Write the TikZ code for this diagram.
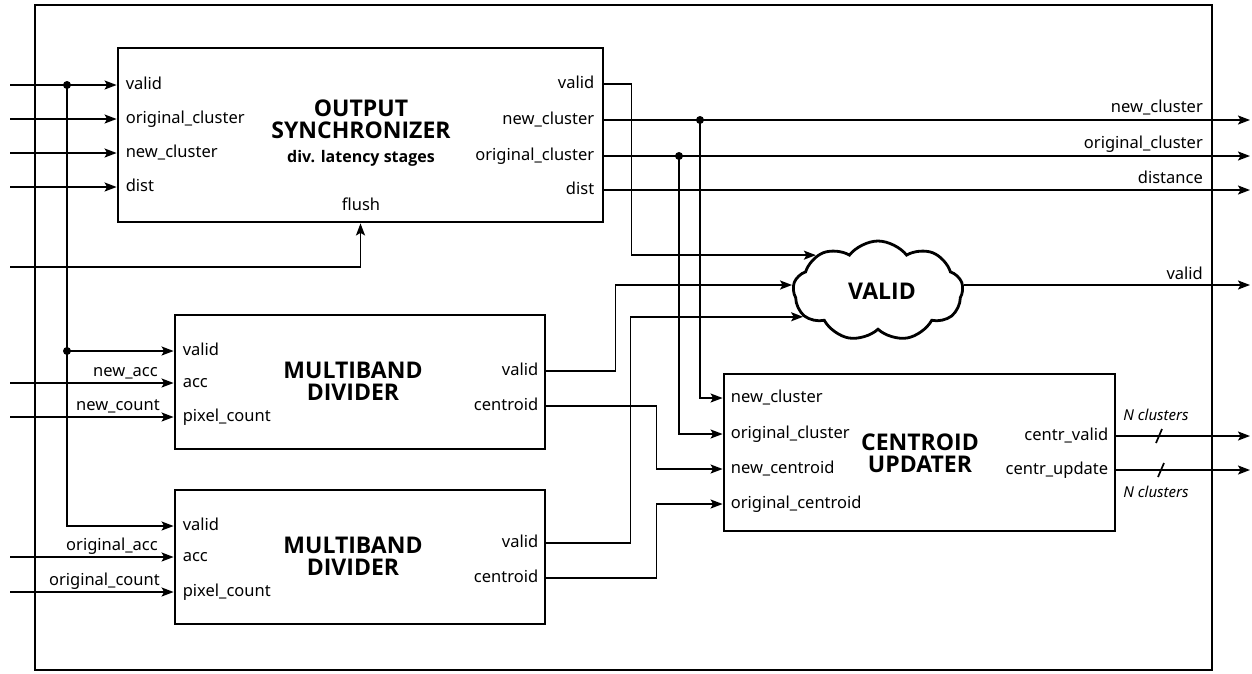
\documentclass[tikz,border=0pt]{standalone}
\usepackage{fontspec}
\setmainfont{Noto Sans}
\IfFontExistsTF{Noto Sans Bold}
  {\newfontfamily\heavyfont{Noto Sans Bold}}
  {\IfFontExistsTF{Open Sans Bold}
    {\newfontfamily\heavyfont{Open Sans Bold}}
    {\newfontfamily\heavyfont{Noto Sans}[FakeBold=2.5]}}
\usetikzlibrary{arrows.meta,shapes.symbols}
\begin{document}
\begin{tikzpicture}[x=1pt,y=-1pt,
  lw/.style={line width=1.7pt},
  wire/.style={lw,-{Stealth[length=12pt,width=9pt,inset=2.5pt]}},
  block/.style={draw,line width=2.8pt,inner sep=0pt},
  lbl/.style={font=\fontsize{16.5}{18}\selectfont,inner sep=0pt,text height=11.5pt,text depth=3pt},
  sig/.style={font=\fontsize{16.5}{18}\selectfont,inner sep=0pt,anchor=base east},
  ttl/.style={font=\fontsize{23}{22}\heavyfont,align=center,inner sep=0pt},
  note/.style={font=\fontsize{15}{18}\selectfont\itshape,inner sep=0pt,anchor=base},
  dot/.style={circle,fill,inner sep=0pt,minimum size=8pt},
]
\useasboundingbox (0,0) rectangle (1252,673);

% enclosing frame
\node[block,minimum width=1177,minimum height=665] (frame) at (623.5,337.5) {};

% blocks
\node[block,minimum width=485,minimum height=174] (os) at (360.5,135) {};
\node[block,minimum width=370,minimum height=134] (d1) at (360,382) {};
\node[block,minimum width=370,minimum height=134] (d2) at (360,557) {};
\node[block,minimum width=391,minimum height=157] (cu) at (919.5,452.5) {};
\node[cloud,draw,line width=2.8pt,cloud puffs=9,cloud puff arc=105,aspect=1.7,
      minimum width=170,minimum height=100,inner sep=0pt] (vc) at (878,291) {};
\node[ttl] (vc-t) at (882,291) {VALID};

% block titles
\node[ttl] (os-t) at (361,119) {OUTPUT\\SYNCHRONIZER};
\node[font=\fontsize{16}{18}\heavyfont,inner sep=0pt] (os-s) at (361,158) {div. latency stages};
\node[ttl] (d1-t) at (353,381) {MULTIBAND\\DIVIDER};
\node[ttl] (d2-t) at (353,556) {MULTIBAND\\DIVIDER};
\node[ttl] (cu-t) at (920,453) {CENTROID\\UPDATER};

% port positions
\coordinate (os-i1) at (os.west |- 0,85);
\coordinate (os-i2) at (os.west |- 0,119);
\coordinate (os-i3) at (os.west |- 0,153);
\coordinate (os-i4) at (os.west |- 0,187);
\coordinate (os-o1) at (os.east |- 0,84);
\coordinate (os-o2) at (os.east |- 0,120);
\coordinate (os-o3) at (os.east |- 0,156);
\coordinate (os-o4) at (os.east |- 0,190);
\coordinate (d1-i1) at (d1.west |- 0,351);
\coordinate (d1-i2) at (d1.west |- 0,383);
\coordinate (d1-i3) at (d1.west |- 0,417);
\coordinate (d1-o1) at (d1.east |- 0,371);
\coordinate (d1-o2) at (d1.east |- 0,406);
\coordinate (d2-i1) at (d2.west |- 0,526);
\coordinate (d2-i2) at (d2.west |- 0,557);
\coordinate (d2-i3) at (d2.west |- 0,592);
\coordinate (d2-o1) at (d2.east |- 0,543);
\coordinate (d2-o2) at (d2.east |- 0,578);
\coordinate (cu-i1) at (cu.west |- 0,398);
\coordinate (cu-i2) at (cu.west |- 0,434);
\coordinate (cu-i3) at (cu.west |- 0,469);
\coordinate (cu-i4) at (cu.west |- 0,504);
\coordinate (cu-o1) at (cu.east |- 0,436);
\coordinate (cu-o2) at (cu.east |- 0,470);

% port labels
\node[lbl,anchor=west] (l-os-i1) at ([xshift=9pt]os-i1) {valid};
\node[lbl,anchor=west] (l-os-i2) at ([xshift=9pt]os-i2) {original\_cluster};
\node[lbl,anchor=west] (l-os-i3) at ([xshift=9pt]os-i3) {new\_cluster};
\node[lbl,anchor=west] (l-os-i4) at ([xshift=9pt]os-i4) {dist};
\node[lbl,anchor=east] (l-os-o1) at ([xshift=-10pt]os-o1) {valid};
\node[lbl,anchor=east] (l-os-o2) at ([xshift=-10pt]os-o2) {new\_cluster};
\node[lbl,anchor=east] (l-os-o3) at ([xshift=-10pt]os-o3) {original\_cluster};
\node[lbl,anchor=east] (l-os-o4) at ([xshift=-10pt]os-o4) {dist};
\node[lbl] (l-flush) at (361,206) {flush};
\node[lbl,anchor=west] (l-d1-i1) at ([xshift=9pt]d1-i1) {valid};
\node[lbl,anchor=west] (l-d1-i2) at ([xshift=9pt]d1-i2) {acc};
\node[lbl,anchor=west] (l-d1-i3) at ([xshift=9pt]d1-i3) {pixel\_count};
\node[lbl,anchor=east] (l-d1-o1) at ([xshift=-8pt]d1-o1) {valid};
\node[lbl,anchor=east] (l-d1-o2) at ([xshift=-8pt]d1-o2) {centroid};
\node[lbl,anchor=west] (l-d2-i1) at ([xshift=9pt]d2-i1) {valid};
\node[lbl,anchor=west] (l-d2-i2) at ([xshift=9pt]d2-i2) {acc};
\node[lbl,anchor=west] (l-d2-i3) at ([xshift=9pt]d2-i3) {pixel\_count};
\node[lbl,anchor=east] (l-d2-o1) at ([xshift=-8pt]d2-o1) {valid};
\node[lbl,anchor=east] (l-d2-o2) at ([xshift=-8pt]d2-o2) {centroid};
\node[lbl,anchor=west] (l-cu-i1) at ([xshift=8pt]cu-i1) {new\_cluster};
\node[lbl,anchor=west] (l-cu-i2) at ([xshift=8pt]cu-i2) {original\_cluster};
\node[lbl,anchor=west] (l-cu-i3) at ([xshift=8pt]cu-i3) {new\_centroid};
\node[lbl,anchor=west] (l-cu-i4) at ([xshift=8pt]cu-i4) {original\_centroid};
\node[lbl,anchor=east] (l-cu-o1) at ([xshift=-8pt]cu-o1) {centr\_valid};
\node[lbl,anchor=east] (l-cu-o2) at ([xshift=-8pt]cu-o2) {centr\_update};

% external inputs
\coordinate (in-valid) at (10,85);
\coordinate (in-oc) at (10,119);
\coordinate (in-nc) at (10,153);
\coordinate (in-dist) at (10,187);
\coordinate (in-flush) at (10,267);
\coordinate (in-nacc) at (10,383);
\coordinate (in-ncnt) at (10,417);
\coordinate (in-oacc) at (10,557);
\coordinate (in-ocnt) at (10,592);

% external outputs
\coordinate (out-nc) at (1250,120);
\coordinate (out-oc) at (1250,156);
\coordinate (out-dist) at (1250,190);
\coordinate (out-valid) at (1250,286);
\coordinate (out-cv) at (1250,436);
\coordinate (out-cu) at (1250,470);

% branch points
\coordinate (jA) at (67,85);
\coordinate (jB) at (jA |- d1-i1);
\coordinate (jC) at (700,120);
\coordinate (jD) at (679,156);

% inputs into the synchronizer
\draw[wire] (in-valid) -- (os-i1);
\draw[wire] (in-oc) -- (os-i2);
\draw[wire] (in-nc) -- (os-i3);
\draw[wire] (in-dist) -- (os-i4);
\draw[wire] (in-flush) -| (os.south);

% valid fan-out to the dividers
\draw[wire] (jA) |- (d2-i1);
\draw[wire] (jB) -- (d1-i1);
\node[dot] (dA) at (jA) {};
\node[dot] (dB) at (jB) {};

% divider operands
\draw[wire] (in-nacc) -- (d1-i2);
\draw[wire] (in-ncnt) -- (d1-i3);
\draw[wire] (in-oacc) -- (d2-i2);
\draw[wire] (in-ocnt) -- (d2-i3);
\node[sig] (s-nacc) at (158,376) {new\_acc};
\node[sig] (s-ncnt) at (160,410) {new\_count};
\node[sig] (s-oacc) at (158,550) {original\_acc};
\node[sig] (s-ocnt) at (160,585) {original\_count};

% synchronizer outputs
\draw[wire] (os-o2) -- (out-nc);
\draw[wire] (os-o3) -- (out-oc);
\draw[wire] (os-o4) -- (out-dist);
\node[dot] (dC) at (jC) {};
\node[dot] (dD) at (jD) {};
\draw[wire] (jC) |- (cu-i1);
\draw[wire] (jD) |- (cu-i2);
\node[sig] (s-nc) at (1203,112) {new\_cluster};
\node[sig] (s-oc) at (1203,148) {original\_cluster};
\node[sig] (s-dist) at (1203,183) {distance};

% valid signals into the cloud
\draw[wire] (os-o1) -- ++(27,0) |- (vc.150);
\draw[wire] (d1-o1) -- ++(69,0) |- (vc.176);
\draw[wire] (d2-o1) -- ++(84,0) |- (vc.199);
\draw[wire] (vc.4) -- (vc.4 -| out-valid);
\node[sig] (s-valid) at (1203,279) {valid};

% centroids into the updater
\draw[wire] (d1-o2) -- ++(110,0) |- (cu-i3);
\draw[wire] (d2-o2) -- ++(110,0) |- (cu-i4);

% updater outputs, N-bit buses
\draw[wire] (cu-o1) -- (out-cv);
\draw[wire] (cu-o2) -- (out-cu);
\coordinate (bus1) at (1159,436);
\coordinate (bus2) at (1161,470);
\draw[lw] ([shift={(-3,7)}]bus1) -- ([shift={(3,-7)}]bus1);
\draw[lw] ([shift={(-3,7)}]bus2) -- ([shift={(3,-7)}]bus2);
\node[note] (n1) at (1156,420) {N clusters};
\node[note] (n2) at (1156,497) {N clusters};
\end{tikzpicture}
\end{document}
